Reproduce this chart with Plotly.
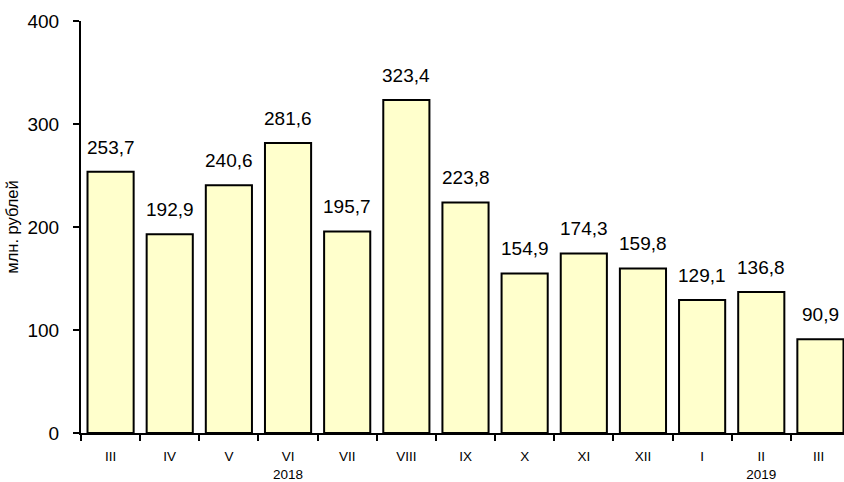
import plotly.graph_objects as go

categories = ["III", "IV", "V", "VI<br>2018", "VII", "VIII", "IX", "X", "XI", "XII", "I", "II<br>2019", "III "]
values = [253.7, 192.9, 240.6, 281.6, 195.7, 323.4, 223.8, 154.9, 174.3, 159.8, 129.1, 136.8, 90.9]
y_ticks = [0, 100, 200, 300, 400]

texts = [f"{v:.1f}".replace(".", ",") for v in values]

fig = go.Figure(go.Bar(
    x=categories,
    y=values,
    marker=dict(color="#FFFFCC", line=dict(color="black", width=2)),
    cliponaxis=False,
))

for c, v, t in zip(categories, values, texts):
    fig.add_annotation(
        x=c, y=v, text=t, showarrow=False, yanchor="bottom", yshift=12,
        font=dict(family="Arial, Liberation Sans", size=19, color="black"),
    )

fig.update_layout(
    width=850, height=482,
    margin=dict(l=81, r=0, t=21, b=49),
    plot_bgcolor="white", paper_bgcolor="white",
    bargap=0.22,
    showlegend=False,
    font=dict(family="Arial, Liberation Sans", color="black"),
)
fig.update_xaxes(
    type="category",
    tickson="boundaries",
    showline=True, linecolor="black", linewidth=2,
    ticks="outside", ticklen=6, tickwidth=2, tickcolor="black",
    ticklabelstandoff=10,
    showgrid=False, automargin=False,
    tickfont=dict(size=13.5),
)
fig.update_yaxes(
    range=[0, 400],
    tickvals=y_ticks,
    showline=True, linecolor="black", linewidth=2,
    ticks="outside", ticklen=6, tickwidth=2, tickcolor="black",
    ticklabelstandoff=10,
    showgrid=False, zeroline=False, automargin=False,
    tickfont=dict(size=19),
    title=dict(text="млн. рублей", font=dict(size=16.5), standoff=5),
)

fig.write_html(
    "out.html",
    config={"displayModeBar": False},
    post_script="document.body.style.margin='0';document.body.style.overflow='hidden';",
)
